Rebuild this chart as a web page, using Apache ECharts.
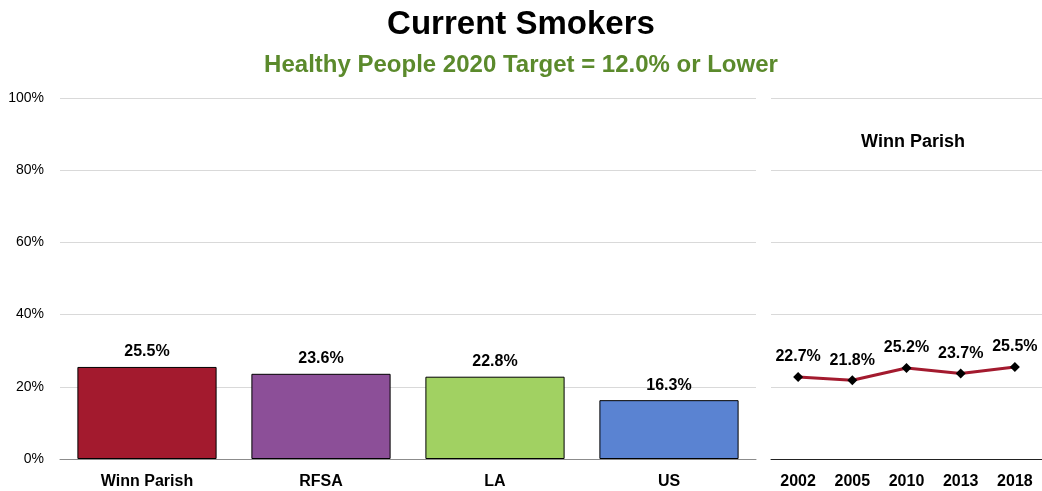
<!DOCTYPE html>
<html>
<head>
<meta charset="utf-8">
<script src="https://cdn.jsdelivr.net/npm/echarts@6/dist/echarts.min.js"></script>
<style>
  html, body { margin: 0; padding: 0; background: #fff; }
  #chart { width: 1042px; height: 491px; }
</style>
</head>
<body>
<div id="chart"></div>
<script>
// data
const regions = ['Winn Parish', 'RFSA', 'LA', 'US']
const regionValues = [25.5, 23.6, 22.8, 16.3]
const regionColors = ['#a31a2e', '#8c4f98', '#a1d162', '#5a83d2']
const years = ['2002', '2005', '2010', '2013', '2018']
const trendValues = [22.7, 21.8, 25.2, 23.7, 25.5]

const FONT = '"Liberation Sans", Arial, sans-serif'

const chart = echarts.init(document.getElementById('chart'))

const pct = p => p.value.toFixed(1) + '%'

const option = {
  backgroundColor: '#fff',
  title: [
    {
      text: 'Current Smokers',
      left: 'center',
      top: 3,
      textStyle: { fontFamily: FONT, fontSize: 33, fontWeight: 'bold', color: '#000' }
    },
    {
      text: 'Healthy People 2020 Target = 12.0% or Lower',
      left: 'center',
      top: 48,
      textStyle: { fontFamily: FONT, fontSize: 24, fontWeight: 'bold', color: '#5b8a2c' }
    },
    {
      text: 'Winn Parish',
      left: 908,
      top: 128,
      textAlign: 'center',
      textStyle: { fontFamily: FONT, fontSize: 18, fontWeight: 'bold', color: '#000' }
    }
  ],
  grid: [
    { left: 60, right: 286, top: 98, bottom: 32 },
    { left: 771, right: 0, top: 98, bottom: 32 }
  ],
  xAxis: [
    {
      type: 'category',
      gridIndex: 0,
      data: regions,
      axisTick: { show: false },
      axisLine: { lineStyle: { color: '#8c8c8c', width: 1 } },
      axisLabel: { fontFamily: FONT, fontSize: 16, fontWeight: 'bold', color: '#000', margin: 15 }
    },
    {
      type: 'category',
      gridIndex: 1,
      data: years,
      axisTick: { show: false },
      axisLine: { lineStyle: { color: '#222', width: 1 } },
      axisLabel: { fontFamily: FONT, fontSize: 16, fontWeight: 'bold', color: '#000', margin: 15 }
    }
  ],
  yAxis: [
    {
      type: 'value',
      gridIndex: 0,
      min: 0,
      max: 100,
      interval: 20,
      axisLine: { show: false },
      axisTick: { show: false },
      splitLine: { lineStyle: { color: '#d9d9d9' } },
      axisLabel: { formatter: '{value}%', fontFamily: FONT, fontSize: 14, color: '#000', margin: 16 }
    },
    {
      type: 'value',
      gridIndex: 1,
      min: 0,
      max: 100,
      interval: 20,
      axisLine: { show: false },
      axisTick: { show: false },
      axisLabel: { show: false },
      splitLine: { lineStyle: { color: '#d9d9d9' } }
    }
  ],
  series: [
    {
      type: 'bar',
      xAxisIndex: 0,
      yAxisIndex: 0,
      barWidth: '80%',
      data: regionValues.map((v, i) => ({
        value: v,
        itemStyle: { color: regionColors[i] }
      })),
      itemStyle: { borderColor: '#000', borderWidth: 1 },
      label: {
        show: true,
        position: 'top',
        distance: 7,
        formatter: pct,
        fontFamily: FONT,
        fontSize: 16,
        fontWeight: 'bold',
        color: '#000'
      }
    },
    {
      type: 'line',
      xAxisIndex: 1,
      yAxisIndex: 1,
      data: trendValues,
      symbol: 'diamond',
      symbolSize: 10,
      itemStyle: { color: '#000' },
      lineStyle: { color: '#a31a2e', width: 3 },
      label: {
        show: true,
        position: 'top',
        distance: 7,
        formatter: pct,
        fontFamily: FONT,
        fontSize: 16,
        fontWeight: 'bold',
        color: '#000'
      }
    }
  ]
}

chart.setOption(option)
</script>
</body>
</html>
